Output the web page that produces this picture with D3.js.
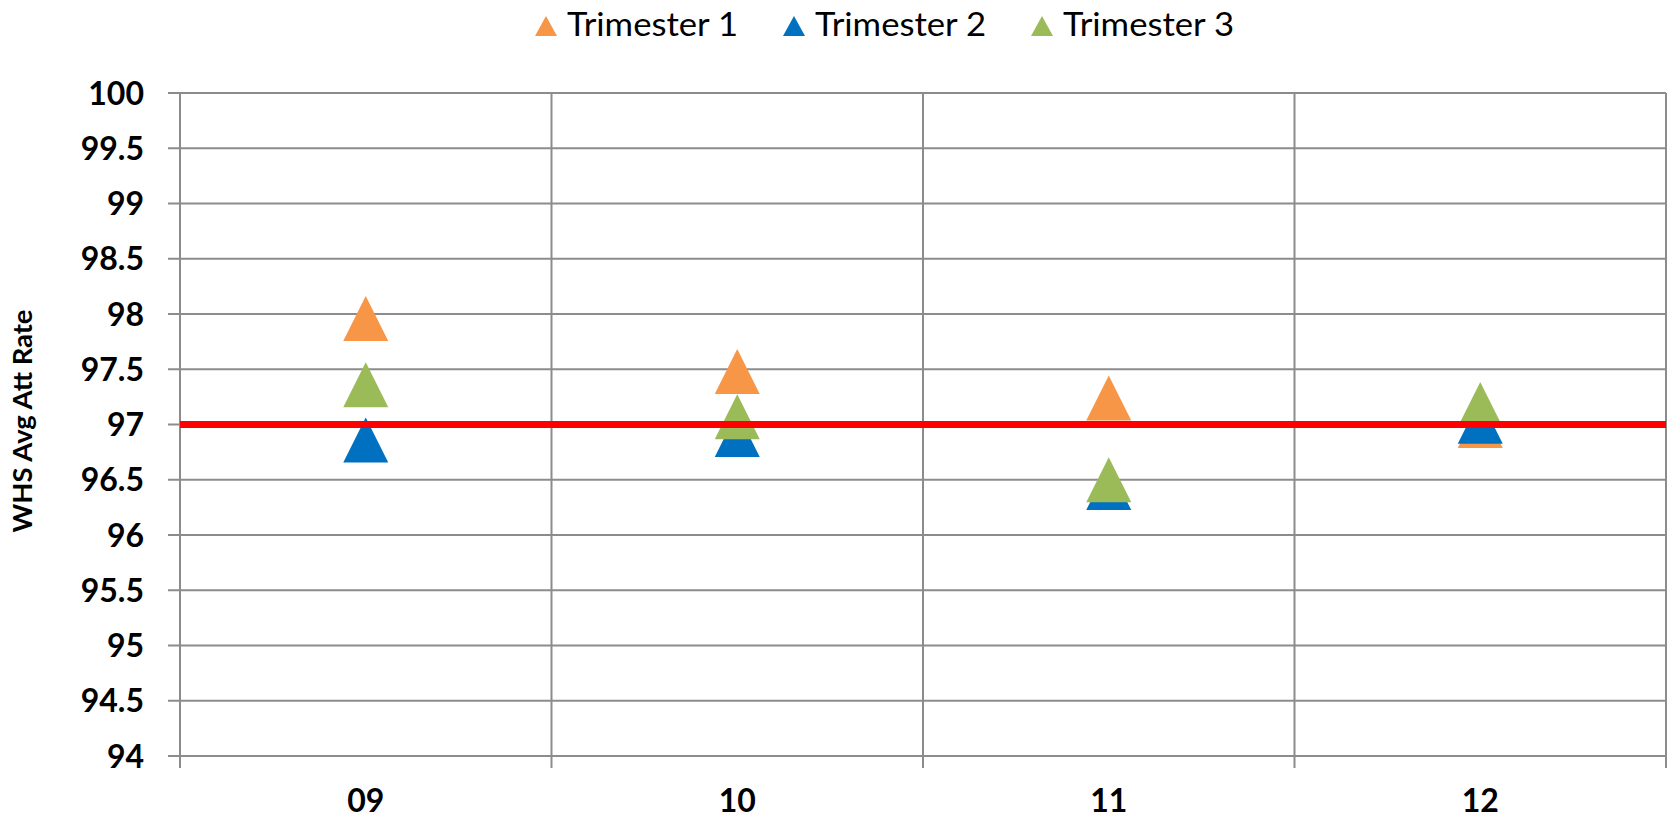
<!DOCTYPE html>
<meta charset="utf-8">
<title>WHS Avg Att Rate</title>
<style>
    body { margin: 0; background: #fff; }
    text { font-family: Lato, "Open Sans", sans-serif; fill: #000; }
    .grid line { stroke: #8c8c8c; stroke-width: 2px; }
</style>
<script src="https://d3js.org/d3.v7.min.js"></script>
<body>
<div id="chart"></div>
<script>
    // data
    var years = ["09", "10", "11", "12"];
    var trimester1 = [97.96, 97.48, 97.24, 96.99];
    var trimester2 = [96.86, 96.91, 96.43, 97.03];
    var trimester3 = [97.36, 97.07, 96.50, 97.18];
    var seriesNames = ["Trimester 1", "Trimester 2", "Trimester 3"];
    var seriesColors = ["#F79646", "#0070C0", "#9BBB59"];
    var yTicks = [94, 94.5, 95, 95.5, 96, 96.5, 97, 97.5, 98, 98.5, 99, 99.5, 100];
    var target = 97;

    var canvasWidth = 1671, canvasHeight = 820;
    var margin = {top: 93, right: 5, bottom: 64, left: 180};
    var width = canvasWidth - margin.left - margin.right,
        height = canvasHeight - margin.top - margin.bottom;

    var svg = d3.select("#chart").append("svg")
        .attr("width", canvasWidth)
        .attr("height", canvasHeight);
    var g = svg.append("g").attr("transform", "translate(" + margin.left + "," + margin.top + ")");

    var x = d3.scaleBand().domain(years).range([0, width]);
    var y = d3.scaleLinear().domain([94, 100]).range([height, 0]);

    // horizontal gridlines
    g.append("g").attr("class", "grid")
        .selectAll("line").data(yTicks).enter().append("line")
        .attr("x1", -12).attr("x2", width)
        .attr("y1", d => y(d)).attr("y2", d => y(d));

    // vertical gridlines at category edges
    var edges = years.map(d => x(d)).concat([width]);
    g.append("g").attr("class", "grid")
        .selectAll("line").data(edges).enter().append("line")
        .attr("x1", d => d).attr("x2", d => d)
        .attr("y1", 0).attr("y2", height + 12);

    // y tick labels
    g.append("g").selectAll("text").data(yTicks).enter().append("text")
        .attr("x", -36).attr("y", d => y(d)).attr("dy", "0.36em")
        .attr("text-anchor", "end")
        .style("font-size", "32px").style("font-weight", "bold")
        .text(d => d);

    // x labels
    g.append("g").selectAll("text").data(years).enter().append("text")
        .attr("x", d => x(d) + x.bandwidth() / 2).attr("y", height + 56)
        .attr("text-anchor", "middle")
        .style("font-size", "32px").style("font-weight", "bold")
        .text(d => d);

    // y axis title
    svg.append("text")
        .attr("transform", "translate(32,421) rotate(-90)")
        .attr("text-anchor", "middle")
        .attr("textLength", 223).attr("lengthAdjust", "spacingAndGlyphs")
        .style("font-size", "26px").style("font-weight", "bold")
        .text("WHS Avg Att Rate");

    var series = [trimester1, trimester2, trimester3].map(function(vals, i) {
        return {name: seriesNames[i], color: seriesColors[i],
            values: years.map((yr, j) => ({year: yr, value: vals[j]}))};
    });

    function tri(cx, cy, w, h) {
        return "M" + cx + "," + (cy - h / 2) + "L" + (cx + w / 2) + "," + (cy + h / 2) +
            "L" + (cx - w / 2) + "," + (cy + h / 2) + "Z";
    }

    series.forEach(function(s) {
        g.append("g").selectAll("path").data(s.values).enter().append("path")
            .attr("d", d => tri(x(d.year) + x.bandwidth() / 2, y(d.value), 45, 45))
            .attr("fill", s.color);
    });

    // target line
    g.append("line")
        .attr("x1", 0).attr("x2", width)
        .attr("y1", y(target)).attr("y2", y(target))
        .attr("stroke", "#FF0000").attr("stroke-width", 7);

    // legend
    var legendStart = 535, legendStep = 248;
    var legend = svg.append("g").selectAll("g").data(series).enter().append("g")
        .attr("transform", (d, i) => "translate(" + (legendStart + i * legendStep) + ",0)");
    legend.append("path")
        .attr("d", tri(11, 26, 22, 20))
        .attr("fill", d => d.color);
    legend.append("text")
        .attr("x", 32).attr("y", 36)
        .attr("textLength", 171).attr("lengthAdjust", "spacingAndGlyphs")
        .style("font-size", "32px")
        .text(d => d.name);
</script>
</body>
